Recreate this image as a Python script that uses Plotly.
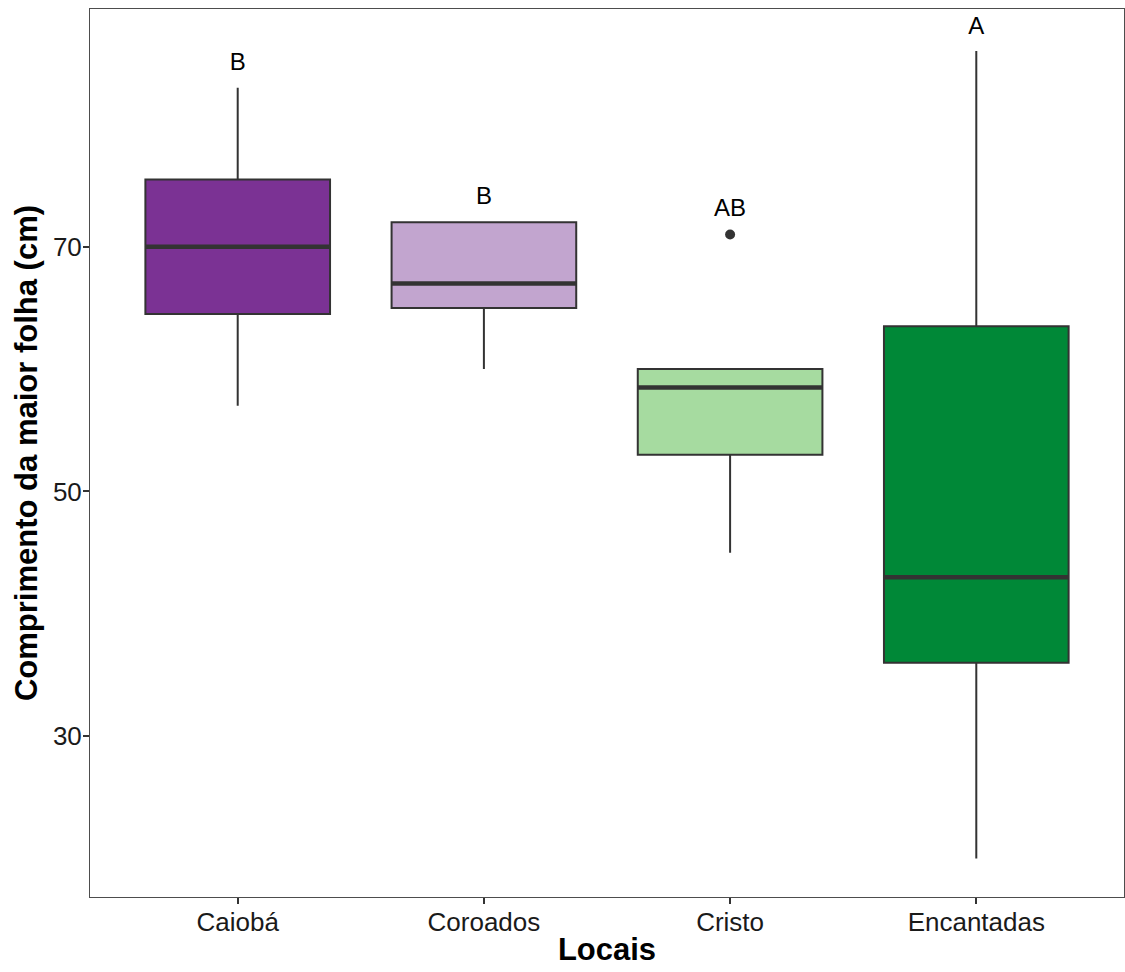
import plotly.graph_objects as go

# Summary statistics of leaf length per site
locais = ["Caiobá", "Coroados", "Cristo", "Encantadas"]
minimo = [57.0, 60.0, 45.0, 20.0]
q1 = [64.5, 65.0, 53.0, 36.0]
mediana = [70.0, 67.0, 58.5, 43.0]
q3 = [75.5, 72.0, 60.0, 63.5]
maximo = [83.0, 72.0, 60.0, 86.0]
cores = ["#7B3294", "#C2A5CF", "#A6DBA0", "#008837"]

# Outlier points
outlier_local = [2]
outlier_valor = [71.0]

# Compact letter display (Tukey groups)
letras = ["B", "B", "AB", "A"]
letras_y = [84.9, 74.0, 73.0, 87.9]

BOX_W = 0.75
LINE = "#333333"
FONT = "Liberation Sans, Arial, sans-serif"

fig = go.Figure()
for i, nome in enumerate(locais):
    fig.add_trace(go.Box(
        x=[i], q1=[q1[i]], median=[mediana[i]], q3=[q3[i]],
        lowerfence=[minimo[i]], upperfence=[maximo[i]],
        width=BOX_W, whiskerwidth=0, fillcolor=cores[i],
        line=dict(color=LINE, width=2), boxpoints=False,
        name=nome, showlegend=False, hoverinfo="skip",
    ))
    # thicker median bar
    fig.add_trace(go.Scatter(
        x=[i - BOX_W / 2, i + BOX_W / 2], y=[mediana[i], mediana[i]],
        mode="lines", line=dict(color=LINE, width=4.5),
        showlegend=False, hoverinfo="skip",
    ))

fig.add_trace(go.Scatter(
    x=outlier_local, y=outlier_valor, mode="markers",
    marker=dict(color=LINE, size=10), showlegend=False, hoverinfo="skip",
))

fig.add_trace(go.Scatter(
    x=list(range(len(locais))), y=letras_y, text=letras, mode="text",
    textposition="middle center",
    textfont=dict(family=FONT, size=24, color="#000000"),
    showlegend=False, hoverinfo="skip",
))

axis_common = dict(
    showgrid=False, zeroline=False, mirror=True, showline=True,
    linecolor="#4D4D4D", linewidth=1, ticks="outside", ticklen=6,
    tickwidth=1.5, tickcolor="#333333",
    tickfont=dict(family=FONT, size=26, color="#1A1A1A"),
)

fig.update_layout(
    width=1125, height=972,
    margin=dict(l=90, r=1, t=9, b=75),
    plot_bgcolor="white", paper_bgcolor="white",
    xaxis=dict(
        axis_common, range=[-0.6, 3.6], tickvals=list(range(len(locais))),
        ticktext=locais, ticklabelstandoff=-4,
        title=dict(text="<b>Locais</b>", standoff=2,
                   font=dict(family=FONT, size=31, color="#000000")),
    ),
    yaxis=dict(
        axis_common, range=[16.86, 89.43], tickvals=[30, 50, 70],
        ticklabelstandoff=-4,
        title=dict(text="<b>Comprimento da maior folha (cm)</b>", standoff=6,
                   font=dict(family=FONT, size=31, color="#000000")),
    ),
)

fig.write_html("out.html")
